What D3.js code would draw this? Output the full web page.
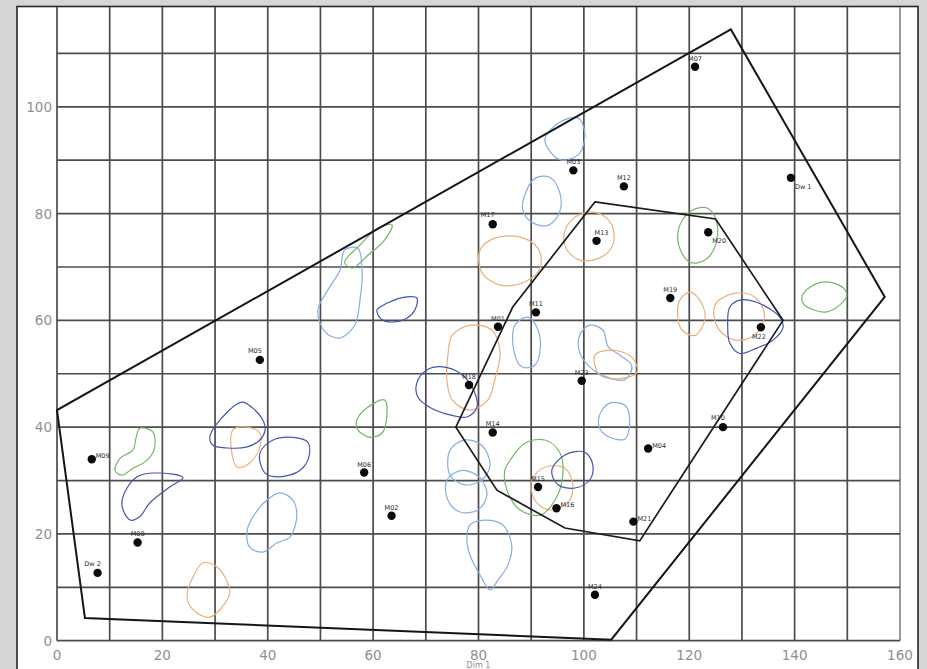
<!DOCTYPE html>
<html>
<head>
<meta charset="utf-8">
<script src="https://cdn.jsdelivr.net/npm/d3@7"></script>
<style>
  html, body { margin: 0; padding: 0; background: #d6d6d6; }
  svg { display: block; }
</style>
</head>
<body>
<svg id="chart" width="927" height="669"></svg>
<script>
// ---- data ------------------------------------------------------------
const xTicks = [0, 20, 40, 60, 80, 100, 120, 140, 160];
const yTicks = [0, 20, 40, 60, 80, 100];
const xGrid = d3.range(0, 161, 10);
const yGrid = d3.range(0, 111, 10);

// sample sites
const siteNames = ["M09", "M08", "Dw 2", "M05", "M06", "M02", "M18", "M14", "M07", "M03",
                   "M12", "Dw 1", "M17", "M13", "M20", "M19", "M11", "M01", "M22", "M23",
                   "M10", "M04", "M15", "M16", "M21", "M24"];
const siteX = [6.6, 15.3, 7.7, 38.5, 58.3, 63.5, 78.2, 82.7, 121.1, 98.0,
               107.6, 139.3, 82.7, 102.4, 123.6, 116.4, 90.9, 83.7, 133.6, 99.6,
               126.4, 112.2, 91.3, 94.8, 109.4, 102.1];
const siteY = [34.0, 18.4, 12.7, 52.6, 31.5, 23.4, 47.9, 39.0, 107.5, 88.1,
               85.1, 86.7, 78.0, 74.9, 76.5, 64.2, 61.5, 58.8, 58.7, 48.7,
               40.0, 36.0, 28.8, 24.8, 22.3, 8.6];
const siteLabelSide = ["r", "t", "tl", "tl", "t", "t", "t", "t", "t", "t",
                       "t", "br", "tl", "tr", "br", "t", "t", "t", "b", "t",
                       "tl", "r", "t", "r", "r", "t"];

// hull around all sites, and hull around the central group
const outerHull = [[0, 43.2], [5.3, 4.25], [105.2, 0.2], [157.1, 64.4], [127.9, 114.5]];
const innerHull = [[102.1, 82.2], [125.0, 79.0], [137.8, 60.0], [110.6, 18.7],
                   [96.4, 21.1], [83.5, 28.2], [75.7, 40.0], [86.5, 62.5]];

// density contours per group
const contoursDarkBlue = [
  [[12.3,25.8],[15.2,30.7],[22.0,31.2],[23.9,30.5],[21.4,28.8],[17.6,25.8],[15.7,23.2],[13.9,22.6]],
  [[29.0,38.1],[30.9,41.3],[35.1,44.7],[37.0,43.7],[39.1,41.3],[39.5,39.5],[38.5,37.6],[36.1,36.3],[32.3,36.1],[29.6,36.6]],
  [[38.5,35.1],[41.0,37.6],[44.8,38.1],[47.6,37.2],[47.8,34.4],[46.1,31.9],[42.3,30.7],[39.5,31.4]],
  [[68.3,48.3],[70.2,50.7],[73.2,51.3],[76.5,50.1],[78.9,47.3],[79.7,43.7],[77.8,41.9],[74.6,42.3],[70.8,43.7],[68.5,45.6]],
  [[93.9,31.9],[96.4,34.8],[100.2,35.3],[101.7,32.9],[101.1,30.1],[98.3,28.6],[95.1,29.2]],
  [[127.7,62.5],[129.6,63.8],[132.8,63.4],[137.2,60.6],[137.8,58.7],[135.9,56.3],[132.8,54.8],[129.6,53.8],[127.7,55.7],[127.3,58.7]],
  [[60.7,61.9],[62.6,63.2],[66.4,64.4],[68.3,64.2],[67.9,61.9],[66.4,60.4],[63.8,59.7],[61.7,60.1]]
];
const contoursLightBlue = [
  [[36.1,20.7],[37.2,23.2],[39.8,26.3],[42.3,27.7],[44.8,26.3],[45.5,23.2],[44.2,19.4],[41.7,18.3],[39.1,16.6],[36.6,17.5]],
  [[74.6,35.7],[77.4,37.6],[80.6,36.6],[82.2,32.9],[80.6,30.1],[77.4,29.2],[74.6,31.0]],
  [[74.0,30.1],[76.9,31.9],[80.3,30.5],[81.6,27.3],[79.9,24.5],[76.5,24.1],[74.2,26.3]],
  [[78.4,21.7],[81.2,22.6],[84.6,21.7],[86.3,17.9],[85.6,14.2],[83.7,11.4],[82.2,9.5],[80.3,12.3],[78.4,16.0],[77.8,19.2]],
  [[103.0,42.3],[104.9,44.5],[107.8,44.1],[108.7,41.3],[107.8,37.8],[104.9,38.1],[103.0,39.8]],
  [[99.2,57.2],[101.1,59.1],[103.6,58.2],[104.6,55.1],[106.8,53.5],[109.1,51.5],[107.8,48.9],[104.0,49.5],[101.1,51.3],[99.2,54.0]],
  [[86.9,59.1],[89.4,60.6],[91.3,58.2],[91.7,54.4],[90.7,51.6],[88.2,51.3],[86.7,54.4]],
  [[88.8,83.5],[90.7,86.6],[93.5,86.8],[95.4,84.0],[95.4,80.3],[93.2,77.8],[90.1,78.4],[88.4,80.7]],
  [[92.6,93.8],[95.4,97.1],[98.9,97.9],[100.2,94.8],[98.9,91.0],[95.4,90.1]],
  [[54.6,73.2],[57.1,73.5],[57.9,69.4],[57.5,63.8],[56.5,59.1],[53.7,56.7],[50.9,57.8],[49.5,61.9],[51.4,65.7],[53.7,69.4]]
];
const contoursOrange = [
  [[33.4,39.5],[36.1,40.0],[38.5,38.9],[38.5,36.3],[36.6,33.3],[34.2,32.5],[33.2,35.1]],
  [[24.7,8.9],[25.8,11.9],[27.7,14.6],[30.4,13.8],[32.4,10.8],[32.8,8.9],[30.9,5.8],[29.0,4.4],[26.6,5.2],[24.9,7.1]],
  [[75.0,57.2],[78.4,59.1],[82.5,58.2],[84.1,54.0],[83.1,48.9],[81.8,45.1],[78.4,43.2],[75.0,45.1],[74.0,48.9],[74.2,53.5]],
  [[90.1,30.1],[92.6,32.5],[96.4,32.3],[97.9,29.2],[97.0,25.8],[93.5,24.5],[90.7,26.3]],
  [[102.1,53.5],[105.9,54.4],[109.3,52.9],[110.1,50.3],[106.8,49.1],[103.0,49.8]],
  [[80.3,73.2],[83.1,75.4],[87.9,75.6],[91.3,73.5],[91.7,69.8],[88.8,67.2],[84.1,66.6],[80.6,69.0]],
  [[96.4,76.9],[98.9,79.7],[102.7,80.1],[105.3,77.9],[105.5,74.1],[103.0,71.7],[99.2,71.3],[96.6,73.5]],
  [[118.2,63.8],[120.1,65.3],[122.0,63.8],[123.0,60.4],[121.1,57.2],[118.6,58.2],[117.8,61.0]],
  [[124.9,62.9],[128.7,65.1],[132.4,64.4],[134.3,61.0],[132.4,57.2],[128.7,56.3],[125.4,58.6]]
];
const contoursGreen = [
  [[15.7,39.8],[18.2,39.1],[18.4,35.7],[16.7,33.5],[14.4,32.3],[12.3,31.0],[11.0,31.9],[12.0,34.2],[14.4,35.7],[15.0,38.0]],
  [[56.9,41.3],[58.8,43.6],[62.2,45.1],[62.6,41.9],[61.7,38.9],[59.4,38.1],[57.1,39.5]],
  [[86.0,33.8],[88.8,37.0],[92.6,37.6],[95.4,35.3],[96.0,31.0],[94.5,26.3],[91.7,23.5],[87.9,24.5],[85.4,28.2],[85.0,31.9]],
  [[118.2,77.8],[120.5,80.6],[123.5,81.0],[125.2,78.4],[125.0,74.1],[123.0,71.3],[120.1,70.9],[118.0,74.1]],
  [[141.4,64.4],[142.9,66.2],[146.1,67.2],[149.1,66.2],[149.9,64.7],[148.6,62.9],[146.1,61.6],[143.5,62.0],[141.6,63.2]],
  [[54.6,70.9],[57.5,74.1],[60.9,77.3],[63.6,77.9],[62.2,75.1],[59.0,72.2],[56.0,69.8]]
];

// ---- drawing ---------------------------------------------------------
const svg = d3.select("#chart");
const W = 927, H = 669;

const x = d3.scaleLinear().domain([0, 160]).range([57, 900]);
const y = d3.scaleLinear().domain([0, 118.7]).range([640.7, 7]);

// white panel with dark frame
svg.append("rect")
  .attr("x", 17).attr("y", 6.5).attr("width", 901).attr("height", H)
  .attr("fill", "#ffffff").attr("stroke", "#262626").attr("stroke-width", 1.6);

// grid
const grid = svg.append("g").attr("stroke", "#4c4c4c").attr("stroke-width", 1.7);
grid.selectAll("line.v").data(xGrid).join("line")
  .attr("class", "v")
  .attr("x1", d => x(d)).attr("x2", d => x(d))
  .attr("y1", y(0)).attr("y2", y.range()[1])
  .attr("stroke", d => d === 160 ? "#8a8a8a" : null);
grid.selectAll("line.h").data(yGrid).join("line")
  .attr("class", "h")
  .attr("x1", x(0)).attr("x2", x(160))
  .attr("y1", d => y(d)).attr("y2", d => y(d));

// tick labels
const tickFont = "'DejaVu Sans', sans-serif";
svg.append("g").selectAll("text").data(yTicks).join("text")
  .attr("x", x(0) - 5).attr("y", d => y(d))
  .attr("text-anchor", "end").attr("dominant-baseline", "central")
  .attr("font-family", tickFont).attr("font-size", 13.5).attr("fill", "#8f8f8f")
  .text(d => d);
svg.append("g").selectAll("text").data(xTicks).join("text")
  .attr("x", d => x(d)).attr("y", y(0) + 14)
  .attr("text-anchor", "middle").attr("dominant-baseline", "central")
  .attr("font-family", tickFont).attr("font-size", 13.5).attr("fill", "#8f8f8f")
  .text(d => d);
svg.append("text")
  .attr("x", x(80)).attr("y", H - 1)
  .attr("text-anchor", "middle")
  .attr("font-family", tickFont).attr("font-size", 8).attr("fill", "#8f8f8f")
  .text("Dim 1");

// contours
const contourLine = d3.line()
  .x(d => x(d[0])).y(d => y(d[1]))
  .curve(d3.curveCatmullRomClosed.alpha(0.5));
const groups = [
  { rings: contoursLightBlue, color: "#86ade0" },
  { rings: contoursOrange, color: "#eab07a" },
  { rings: contoursGreen, color: "#74b567" },
  { rings: contoursDarkBlue, color: "#4453b0" }
];
groups.forEach(g => {
  svg.append("g").selectAll("path").data(g.rings).join("path")
    .attr("d", contourLine)
    .attr("fill", "none")
    .attr("stroke", g.color)
    .attr("stroke-width", 1.2);
});

// hulls
const hullLine = d3.line().x(d => x(d[0])).y(d => y(d[1])).curve(d3.curveLinearClosed);
svg.append("path").datum(outerHull).attr("d", hullLine)
  .attr("fill", "none").attr("stroke", "#151515").attr("stroke-width", 2)
  .attr("stroke-linejoin", "miter");
svg.append("path").datum(innerHull).attr("d", hullLine)
  .attr("fill", "none").attr("stroke", "#1c1c1c").attr("stroke-width", 1.7);

// sites
const sites = siteNames.map((n, i) => ({ n, x: siteX[i], y: siteY[i], side: siteLabelSide[i] }));
const offsets = {
  t:  { dx: 0,  dy: -8, anchor: "middle" },
  tl: { dx: -5, dy: -9, anchor: "middle" },
  tr: { dx: 5,  dy: -8, anchor: "middle" },
  r:  { dx: 4,  dy: -3, anchor: "start" },
  br: { dx: 4,  dy: 9,  anchor: "start" },
  b:  { dx: -2, dy: 10, anchor: "middle" }
};
const siteG = svg.append("g");
siteG.selectAll("circle").data(sites).join("circle")
  .attr("cx", d => x(d.x)).attr("cy", d => y(d.y)).attr("r", 4.2)
  .attr("fill", "#0a0a0a");
siteG.selectAll("text").data(sites).join("text")
  .attr("x", d => x(d.x) + offsets[d.side].dx)
  .attr("y", d => y(d.y) + offsets[d.side].dy)
  .attr("text-anchor", d => offsets[d.side].anchor)
  .attr("dominant-baseline", "central")
  .attr("font-family", tickFont).attr("font-size", 6.5).attr("fill", "#2a2a2a")
  .text(d => d.n);
</script>
</body>
</html>
